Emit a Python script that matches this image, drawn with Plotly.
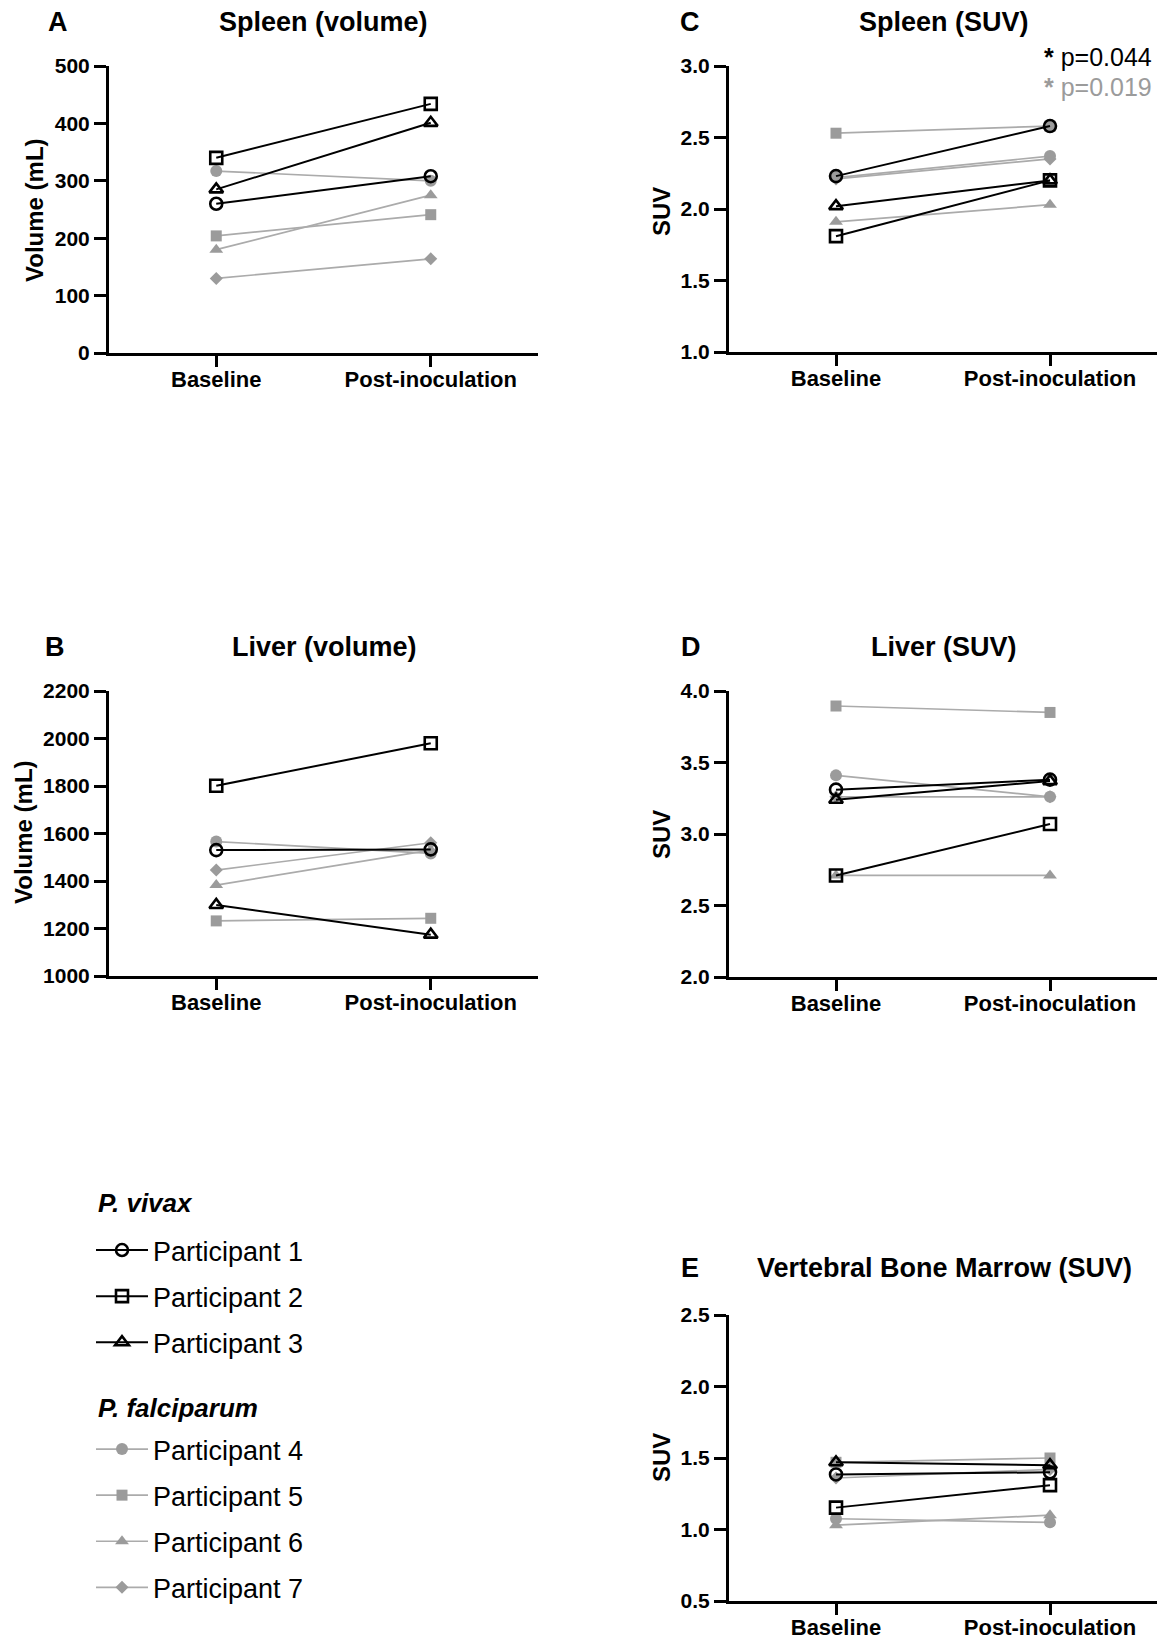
import plotly.graph_objects as go

W, H = 1173, 1640
OFF = 8  # default body margin of the written page

categories = ["Baseline", "Post-inoculation"]
participants = ["Participant 1", "Participant 2", "Participant 3",
                "Participant 4", "Participant 5", "Participant 6", "Participant 7"]

# Panel A: Spleen volume (mL)
spleen_vol_base = [260, 340, 285, 317, 204, 180, 130]
spleen_vol_post = [308, 434, 401, 300, 241, 275, 164]
# Panel B: Liver volume (mL)
liver_vol_base = [1530, 1801, 1299, 1566, 1232, 1383, 1446]
liver_vol_post = [1533, 1980, 1174, 1516, 1243, 1530, 1561]
# Panel C: Spleen SUV
spleen_suv_base = [2.23, 1.81, 2.02, 2.22, 2.53, 1.91, 2.21]
spleen_suv_post = [2.58, 2.20, 2.20, 2.37, 2.58, 2.03, 2.35]
# Panel D: Liver SUV
liver_suv_base = [3.31, 2.71, 3.24, 3.41, 3.895, 2.71, 3.26]
liver_suv_post = [3.38, 3.07, 3.37, 3.26, 3.85, 2.71, 3.26]
# Panel E: Vertebral bone marrow SUV
marrow_base = [1.385, 1.153, 1.47, 1.075, 1.47, 1.03, 1.36]
marrow_post = [1.40, 1.31, 1.45, 1.05, 1.50, 1.10, 1.42]

FONT = "Liberation Sans, Arial, sans-serif"
GREY = "#9b9b9b"
GREY_LINE = "#ababab"

styles = [
    dict(symbol="circle-open", color="black", line="black", size=12, lw=2.0, mlw=2.6, legend="legend"),
    dict(symbol="square-open", color="black", line="black", size=12, lw=2.0, mlw=2.6, legend="legend"),
    dict(symbol="triangle-up-open", color="black", line="black", size=12, lw=2.0, mlw=2.6, legend="legend"),
    dict(symbol="circle", color=GREY, line=GREY_LINE, size=12, lw=1.7, mlw=0, legend="legend2"),
    dict(symbol="square", color=GREY, line=GREY_LINE, size=11, lw=1.7, mlw=0, legend="legend2"),
    dict(symbol="triangle-up", color=GREY, line=GREY_LINE, size=12, lw=1.7, mlw=0, legend="legend2"),
    dict(symbol="diamond", color=GREY, line=GREY_LINE, size=10, lw=1.7, mlw=0, legend="legend2"),
]

def px2x(p):
    return (p - OFF) / W

def px2y(p):
    return 1 - (p - OFF) / H

# panel: (base, post, xaxis id, yaxis id, x px range, y px range, yrange, dtick, tickformat)
panels = [
    (spleen_vol_base, spleen_vol_post, "x", "y", (109, 538), (66, 353), [0, 500], 100, "d"),
    (liver_vol_base, liver_vol_post, "x2", "y2", (109, 538), (691, 976), [1000, 2200], 200, "d"),
    (spleen_suv_base, spleen_suv_post, "x3", "y3", (729, 1157), (66, 352), [1.0, 3.0], 0.5, ".1f"),
    (liver_suv_base, liver_suv_post, "x4", "y4", (729, 1157), (691, 977), [2.0, 4.0], 0.5, ".1f"),
    (marrow_base, marrow_post, "x5", "y5", (729, 1157), (1315, 1601), [0.5, 2.5], 0.5, ".1f"),
]

fig = go.Figure()
layout_axes = {}
for pi, (base, post, xa, ya, xr, yr, yrange, dtick, tfmt) in enumerate(panels):
    # draw falciparum (grey) first, then vivax (black) on top
    for i in [3, 4, 5, 6, 0, 1, 2]:
        s = styles[i]
        fig.add_trace(go.Scatter(
            x=categories, y=[base[i], post[i]],
            mode="lines+markers",
            name=participants[i],
            legend=s["legend"],
            legendgroup=participants[i],
            legendrank=i + 1,
            showlegend=(pi == 0),
            line=dict(color=s["line"], width=s["lw"]),
            marker=dict(symbol=s["symbol"], size=s["size"], color=s["color"],
                        line=dict(width=s["mlw"], color=s["color"])),
            xaxis=xa, yaxis=ya, cliponaxis=False,
        ))
    xkey = "xaxis" if xa == "x" else "xaxis" + xa[1:]
    ykey = "yaxis" if ya == "y" else "yaxis" + ya[1:]
    layout_axes[xkey] = dict(
        domain=[px2x(xr[0]), px2x(xr[1])], anchor=ya, automargin=False,
        type="category", categoryorder="array", categoryarray=categories,
        range=[-0.5, 1.5], showline=True, linewidth=3, linecolor="black",
        ticks="outside", ticklen=11, tickwidth=3, tickcolor="black",
        ticklabelstandoff=-6,
        showgrid=False, zeroline=False,
        tickfont=dict(family=FONT, size=22, color="black", weight="bold"),
    )
    layout_axes[ykey] = dict(
        domain=[px2y(yr[1]), px2y(yr[0])], anchor=xa, automargin=False,
        range=yrange, dtick=dtick, tick0=yrange[0], tickformat=tfmt,
        showline=True, linewidth=3, linecolor="black",
        ticks="outside", ticklen=12, tickwidth=3, tickcolor="black",
        showgrid=False, zeroline=False,
        tickfont=dict(family=FONT, size=21, color="black", weight="bold"),
    )

fig.update_layout(**layout_axes)

annotations = []
def ann(text, x, y, size, bold=True, angle=0, color="black", xanchor="center"):
    annotations.append(dict(
        text=text, x=px2x(x), y=px2y(y), xref="paper", yref="paper",
        xanchor=xanchor, yanchor="middle", showarrow=False, textangle=angle,
        font=dict(family=FONT, size=size, color=color,
                  weight="bold" if bold else "normal"),
    ))

# panel letters
for letter, x, y in [("A", 58, 22), ("B", 55, 647), ("C", 690, 22), ("D", 691, 647), ("E", 690, 1268)]:
    ann(letter, x, y, 27)
# titles
for t, x, y in [("Spleen (volume)", 323, 22), ("Liver (volume)", 324, 647),
                ("Spleen (SUV)", 944, 22), ("Liver (SUV)", 944, 647),
                ("Vertebral Bone Marrow (SUV)", 944, 1268)]:
    ann(t, x, y, 27)
# y-axis titles
for t, x, y in [("Volume (mL)", 34, 210), ("Volume (mL)", 23, 832),
                ("SUV", 661, 212), ("SUV", 661, 835), ("SUV", 661, 1458)]:
    ann(t, x, y, 24, angle=-90)
# p-values
ann("<b>*</b> p=0.044", 1154, 57, 25, bold=False, xanchor="right")
ann("<b>*</b> p=0.019", 1154, 87, 25, bold=False, color=GREY, xanchor="right")
# legend group headings
ann("<i>P. vivax</i>", 96, 1203, 26, xanchor="left")
ann("<i>P. falciparum</i>", 96, 1408, 26, xanchor="left")

fig.update_layout(
    template="none",
    width=W, height=H,
    margin=dict(l=0, r=0, t=0, b=0, autoexpand=False),
    paper_bgcolor="white", plot_bgcolor="white",
    annotations=annotations,
    legend=dict(
        x=px2x(91), y=px2y(1226), xanchor="left", yanchor="top",
        font=dict(family=FONT, size=27, color="black"),
        itemwidth=52,
        tracegroupgap=8, bgcolor="rgba(0,0,0,0)", traceorder="grouped",
    ),
    legend2=dict(
        x=px2x(91), y=px2y(1425), xanchor="left", yanchor="top",
        font=dict(family=FONT, size=27, color="black"),
        itemwidth=52,
        tracegroupgap=8, bgcolor="rgba(0,0,0,0)", traceorder="grouped",
    ),
)

fig.write_html("out.html")
